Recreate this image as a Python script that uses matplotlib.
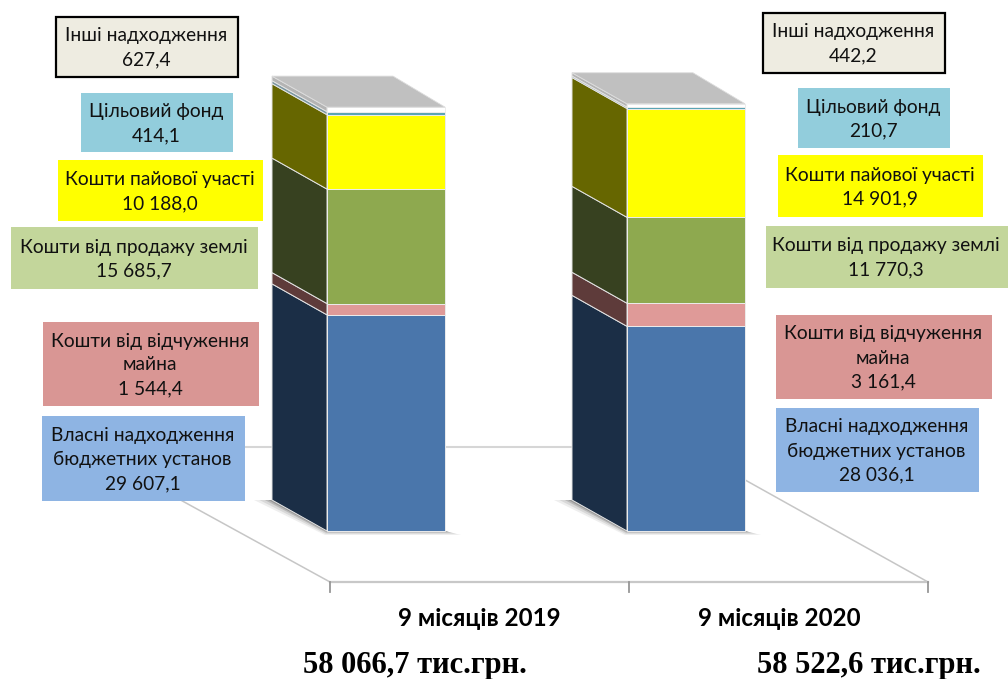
"""Stacked pseudo-3D columns: budget special fund receipts, 9 months 2019 vs 2020."""
import matplotlib
matplotlib.use("Agg")
import matplotlib.pyplot as plt
from matplotlib.patches import Polygon, Rectangle

W, H = 1008, 679
FONT = ["Lato", "Open Sans", "DejaVu Sans"]

categories = ["9 місяців 2019", "9 місяців 2020"]
totals = ["58 066,7 тис.грн.", "58 522,6 тис.грн."]
series = ["Власні надходження\nбюджетних установ", "Кошти від відчуження\nмайна",
          "Кошти від продажу землі", "Кошти пайової участі",
          "Цільовий фонд", "Інші надходження"]
values_2019 = [29607.1, 1544.4, 15685.7, 10188.0, 414.1, 627.4]
values_2020 = [28036.1, 3161.4, 11770.3, 14901.9, 210.7, 442.2]
labels_2019 = ["29 607,1", "1 544,4", "15 685,7", "10 188,0", "414,1", "627,4"]
labels_2020 = ["28 036,1", "3 161,4", "11 770,3", "14 901,9", "210,7", "442,2"]

front_colors = ["#4a76ab", "#df9a98", "#8ea94f", "#ffff00", "#5aa5b5", "#ffffff"]
side_colors = ["#1b2e46", "#5e3b3a", "#374120", "#666600", "#7a96a0", "#b4b4b4"]
box_colors = ["#8eb4e3", "#d99694", "#c3d69b", "#ffff00", "#92cddc", "#eeece1"]

# pixels per thousand UAH
SCALE = 0.0073
BASE_Y = 531
BAR_W = 118
DEPTH_X, DEPTH_Y = 55, 31
BAR_X = [327, 627]

# box pixel rects (x0, y0, x1, y1), same order as series
boxes_2019 = [(42, 416, 245, 501), (43, 322, 259, 406), (11, 227, 258, 289),
              (58, 160, 263, 221), (81, 93, 233, 152), (56, 17, 238, 77)]
boxes_2020 = [(776, 408, 979, 492), (776, 315, 992, 399), (766, 226, 1008, 288),
              (778, 155, 983, 217), (798, 88, 950, 148), (763, 13, 945, 73)]

fig = plt.figure(figsize=(W / 100, H / 100), dpi=100)

# value axes: x in pixels, y in thousand UAH
ax = fig.add_axes([0, 0, 1, 1])
ax.set_xlim(0, W)
ax.set_ylim((BASE_Y - H) / SCALE, BASE_Y / SCALE)
ax.axis("off")

# overlay for floor, boxes and text in plain pixels
lab = fig.add_axes([0, 0, 1, 1], zorder=5)
lab.set_xlim(0, W)
lab.set_ylim(H, 0)
lab.axis("off")
lab.patch.set_alpha(0)


def py(p):
    return (BASE_Y - p) / SCALE


# floor outline, drawn under the bars
ax.plot([84, 330], [py(447), py(582)], color="#c6c6c6", lw=1.1, zorder=1)
ax.plot([928, 686], [py(582), py(447)], color="#c6c6c6", lw=1.1, zorder=1)
ax.plot([330, 928], [py(582), py(582)], color="#c8c8c8", lw=1.6, zorder=1)
ax.plot([84, 686], [py(447), py(447)], color="#d6d6d6", lw=1.5, zorder=1)
for tx in (330, 629, 928):
    ax.plot([tx, tx], [py(582), py(592)], color="#969696", lw=1.3, zorder=1)


def draw_bar(x, values):
    dx, dy = DEPTH_X, DEPTH_Y / SCALE
    # soft shadow along the base
    for s, c in [(1.0, "#eeeeee"), (0.7, "#d8d8d8"), (0.4, "#b8b8b8"), (0.2, "#969696")]:
        ax.add_patch(Polygon([(x - dx - 18 * s, dy), (x - dx, dy), (x, 0), (x + BAR_W, 0),
                              (x + BAR_W + 16 * s, -4 * s / SCALE),
                              (x - 2 * s, -4 * s / SCALE)],
                             closed=True, fc=c, ec="none", zorder=2))
    bottom = 0
    for v, fc, sc in zip(values, front_colors, side_colors):
        top = bottom + v
        ax.add_patch(Polygon([(x, bottom), (x, top), (x - dx, top + dy), (x - dx, bottom + dy)],
                             closed=True, fc=sc, ec="#e4e4e4", lw=0.7, zorder=3))
        ax.add_patch(Rectangle((x, bottom), BAR_W, v, fc=fc, ec="#ececec", lw=0.7, zorder=3))
        bottom = top
    ax.add_patch(Polygon([(x, bottom), (x + BAR_W, bottom), (x + BAR_W - 52, bottom + dy),
                          (x - dx, bottom + dy)], closed=True, fc="#c0c0c0", ec="#dcdcdc",
                         lw=0.6, zorder=3))


draw_bar(BAR_X[0], values_2019)
draw_bar(BAR_X[1], values_2020)


def draw_boxes(rects, numbers):
    for name, num, (x0, y0, x1, y1), fc in zip(series, numbers, rects, box_colors):
        edge = "black" if name.startswith("Інші") else "none"
        lab.add_patch(Rectangle((x0, y0), x1 - x0, y1 - y0, fc=fc, ec=edge, lw=1.6))
        lab.text((x0 + x1) / 2 - 1, (y0 + y1) / 2 + 1, name + "\n" + num, ha="center", va="center",
                 fontsize=13.75, family=FONT, color="#111111", linespacing=1.5)


draw_boxes(boxes_2019, labels_2019)
draw_boxes(boxes_2020, labels_2020)

for cx, name in zip((479, 779), categories):
    lab.text(cx, 618, name, ha="center", va="center", fontsize=17.4, family=FONT,
             fontweight="bold", color="black")
for cx, name in zip((415, 869), totals):
    lab.text(cx, 665, name, ha="center", va="center", fontsize=22,
             family=["Liberation Serif", "DejaVu Serif"], fontweight="bold", color="black")

fig.savefig("out.png", dpi=100)
